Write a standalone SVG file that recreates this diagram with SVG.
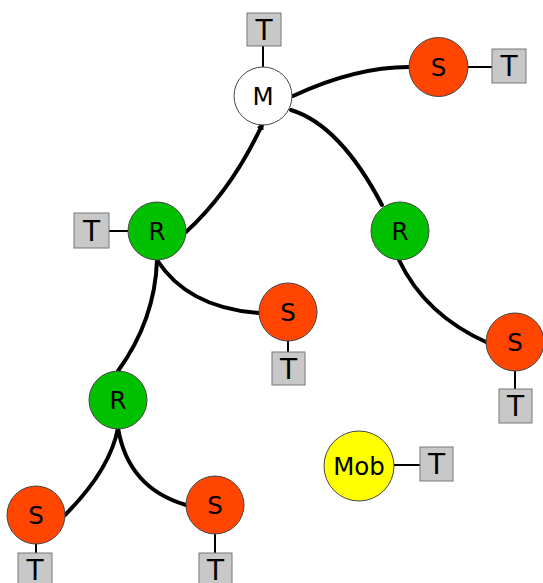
<svg xmlns="http://www.w3.org/2000/svg" width="543" height="583" viewBox="0 0 543 583">
<style>
.edge{fill:none;stroke:#000;stroke-width:4;stroke-linecap:round}
.tl{stroke:#000;stroke-width:2}
.n{stroke:#444;stroke-width:1}
.s{fill:#ff4500}
.r{fill:#00c000}
.m{fill:#fff}
.y{fill:#ffff00}
.tb{fill:#c8c8c8;stroke:#777;stroke-width:1}
text{font-family:"DejaVu Sans",sans-serif;text-anchor:middle;fill:#000}
.nt{font-size:24.5px}
.tt{font-size:28px}
</style>
<defs>
<marker id="ah" viewBox="0 0 10 10" refX="9" refY="5" markerWidth="1.8" markerHeight="1.8" orient="auto">
<path d="M0,0 L10,5 L0,10 z" fill="#000"/>
</marker>
</defs>
<rect width="543" height="583" fill="#fff"/>
<g id="connectors">
<path class="edge" d="M293,96 Q355,67 409,67"/>
<path class="edge" d="M291,110 Q340,125 382,205"/>
<path class="edge" d="M186,232 Q232,190 263,123" marker-end="url(#ah)"/>
<path class="edge" d="M399,260 Q425,315 488,343"/>
<path class="edge" d="M157,260 Q188,308 259,313"/>
<path class="edge" d="M157,260 Q155,320 118,371"/>
<path class="edge" d="M118,428 Q110,470 65,515"/>
<path class="edge" d="M118,428 Q128,488 186,505"/>
<line class="tl" x1="263" y1="46" x2="263" y2="67"/>
<line class="tl" x1="468" y1="67" x2="492" y2="67"/>
<line class="tl" x1="109" y1="231" x2="128" y2="231"/>
<line class="tl" x1="288" y1="341" x2="288" y2="352"/>
<line class="tl" x1="515" y1="371" x2="515" y2="389"/>
<line class="tl" x1="394" y1="465" x2="420" y2="465"/>
<line class="tl" x1="36" y1="544" x2="36" y2="553"/>
<line class="tl" x1="215" y1="534" x2="215" y2="553"/>
</g>
<g id="M"><circle class="n m" cx="263" cy="96" r="29"/><text class="nt" x="263" y="105">M</text></g>
<g id="T_M"><rect class="tb" x="247" y="13" width="34" height="33"/><text class="tt" x="264" y="40">T</text></g>
<g id="S1"><circle class="n s" cx="438.5" cy="67" r="29.5"/><text class="nt" x="438.5" y="76">S</text></g>
<g id="T_S1"><rect class="tb" x="492" y="49" width="34" height="34"/><text class="tt" x="509" y="76">T</text></g>
<g id="R1"><circle class="n r" cx="157" cy="231" r="29"/><text class="nt" x="157" y="240">R</text></g>
<g id="T_R1"><rect class="tb" x="74" y="213" width="35" height="35"/><text class="tt" x="91.5" y="241">T</text></g>
<g id="R2"><circle class="n r" cx="400" cy="231" r="29"/><text class="nt" x="400" y="240">R</text></g>
<g id="S2"><circle class="n s" cx="288" cy="312" r="29"/><text class="nt" x="288" y="321">S</text></g>
<g id="T_S2"><rect class="tb" x="272" y="352" width="33" height="33"/><text class="tt" x="288.5" y="379">T</text></g>
<g id="S3"><circle class="n s" cx="515" cy="342" r="29"/><text class="nt" x="515" y="351">S</text></g>
<g id="T_S3"><rect class="tb" x="499" y="389" width="33" height="34"/><text class="tt" x="515.5" y="416">T</text></g>
<g id="R3"><circle class="n r" cx="118" cy="400" r="29"/><text class="nt" x="118" y="409">R</text></g>
<g id="Mob"><circle class="n y" cx="359" cy="466" r="35"/><text class="nt" x="359" y="475">Mob</text></g>
<g id="T_Mob"><rect class="tb" x="420" y="447" width="33" height="34"/><text class="tt" x="436.5" y="474">T</text></g>
<g id="S4"><circle class="n s" cx="36" cy="515" r="29"/><text class="nt" x="36" y="524">S</text></g>
<g id="T_S4"><rect class="tb" x="18" y="553" width="34" height="34"/><text class="tt" x="35" y="580">T</text></g>
<g id="S5"><circle class="n s" cx="215" cy="505" r="29"/><text class="nt" x="215" y="514">S</text></g>
<g id="T_S5"><rect class="tb" x="199" y="553" width="33" height="34"/><text class="tt" x="215.5" y="580">T</text></g>
</svg>
